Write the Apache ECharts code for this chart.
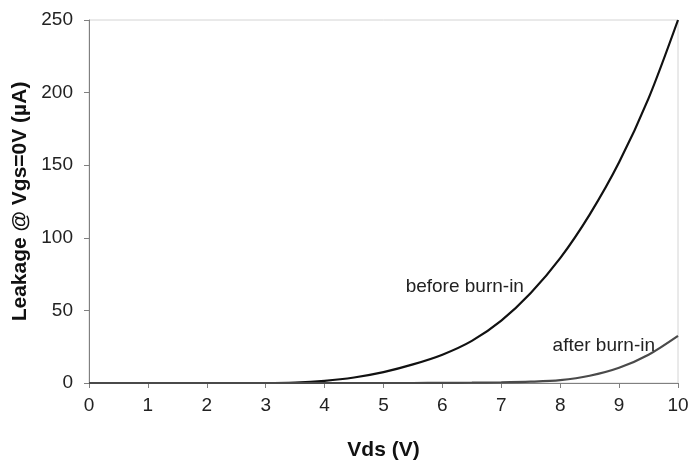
<!DOCTYPE html>
<html><head><meta charset="utf-8">
<script src="https://cdn.jsdelivr.net/npm/echarts@6/dist/echarts.min.js"></script>
<style>html,body{margin:0;padding:0;background:#fff}#c{width:688px;height:461px}</style>
</head><body><div id="c"></div>
<script>
const xValues = [0,0.5,1,1.5,2,2.5,3,3.5,4,4.5,5,5.5,6,6.5,7,7.5,8,8.5,9,9.5,10];
const beforeBurnIn = [0,0,0,0,0,0,0,0.3,1.5,3.8,7.5,12.8,19.5,29,43,62,86,116,152,196,250];
const afterBurnIn = [0,0,0,0,0,0,0,0,0,0,0,0,0.1,0.2,0.4,0.9,2,5,10.5,19.5,32.5];
const xTicks = {min:0, max:10, interval:1};
const yTicks = {min:0, max:250, interval:50};
const labels = [
  {text:'before burn-in', x:6.38, y:66},
  {text:'after burn-in', x:8.74, y:25.5}
];
const font = 'Arial, "Liberation Sans", sans-serif';
const chart = echarts.init(document.getElementById('c'));
const pairs = a => xValues.map((x,i)=>[x,a[i]]);
const mp = l => ({
  symbol:'circle', symbolSize:0, silent:true, animation:false,
  data:[{coord:[l.x,l.y], label:{show:true, formatter:l.text, color:'#222', fontSize:19, fontFamily:font, position:'inside'}}]
});
chart.setOption({
  animation:false,
  backgroundColor:'#fff',
  grid:{left:89,right:10,top:20,bottom:78,containLabel:false,outerBoundsMode:'none',
    show:true,borderColor:'#d4d4d4',borderWidth:1,backgroundColor:'transparent'},
  xAxis:{type:'value',min:xTicks.min,max:xTicks.max,interval:xTicks.interval,
    name:'Vds (V)',nameLocation:'middle',nameGap:57,
    nameTextStyle:{fontSize:21,fontWeight:'bold',color:'#111',fontFamily:font},
    axisLine:{show:true,onZero:false,lineStyle:{color:'#808080',width:1}},
    axisTick:{show:true,inside:false,length:5,lineStyle:{color:'#808080'}},
    axisLabel:{fontSize:19,color:'#222',margin:13,fontFamily:font},
    splitLine:{show:false}},
  yAxis:{type:'value',min:yTicks.min,max:yTicks.max,interval:yTicks.interval,
    name:'Leakage @ Vgs=0V (µA)',nameLocation:'middle',nameGap:58,
    nameTextStyle:{fontSize:21,fontWeight:'bold',color:'#111',fontFamily:font},
    axisLine:{show:true,lineStyle:{color:'#808080',width:1}},
    axisTick:{show:true,inside:false,length:5,lineStyle:{color:'#808080'}},
    axisLabel:{fontSize:19,color:'#222',margin:16,fontFamily:font},
    splitLine:{show:false}},
  series:[
    {type:'line',data:pairs(beforeBurnIn),smooth:0.3,showSymbol:false,
     lineStyle:{color:'#111',width:2.2},markPoint:mp(labels[0])},
    {type:'line',data:pairs(afterBurnIn),smooth:0.3,showSymbol:false,
     lineStyle:{color:'#4a4a4a',width:2.2},markPoint:mp(labels[1])}
  ]
});
</script></body></html>
